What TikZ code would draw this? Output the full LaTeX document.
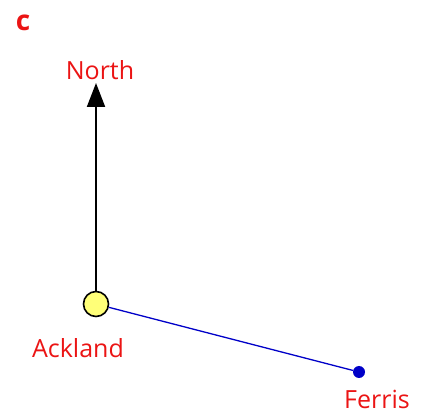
\documentclass[tikz,border=0pt]{standalone}
\usepackage{fontspec}
\setmainfont{Open Sans}
\usetikzlibrary{arrows.meta}
\definecolor{lblred}{RGB}{235,20,20}
\definecolor{linkblue}{RGB}{0,0,200}
\definecolor{ptyellow}{RGB}{255,255,120}
\tikzset{
  lbl/.style={text=lblred, font=\fontsize{25}{27}\selectfont, inner sep=0pt},
  hub/.style={circle, draw=black, line width=1.6pt, fill=ptyellow, minimum size=25pt, inner sep=0pt},
  dot/.style={circle, fill=linkblue, minimum size=12pt, inner sep=0pt},
}
\begin{document}
\begin{tikzpicture}[x=1pt,y=-1pt]
\useasboundingbox (0,0) rectangle (429,414);
\node[text=lblred, font=\fontsize{28}{30}\bfseries\selectfont, inner sep=0pt] (c) at (23,23) {c};
\node[hub] (ack) at (96,304) {};
\node[dot] (fer) at (359,372) {};
\coordinate (tip) at (96,83);
\node[lbl] (north) at (100,70) {North};
\node[lbl] (ackl) at (78,348) {Ackland};
\node[lbl] (ferl) at (377,399) {Ferris};
\draw[line width=2pt, -{Triangle[length=24pt,width=18pt]}] (ack.north) -- (tip);
\draw[linkblue, line width=1.3pt] (ack) -- (fer);
\end{tikzpicture}
\end{document}
